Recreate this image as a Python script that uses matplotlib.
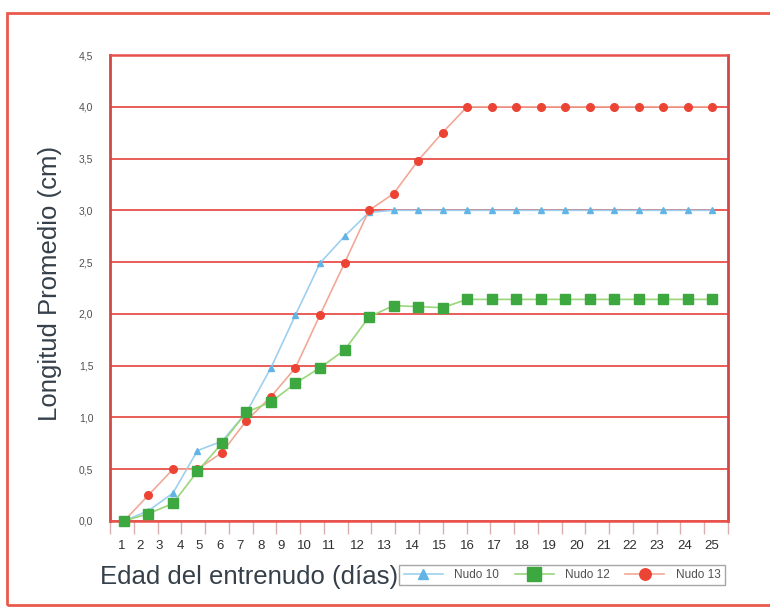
import matplotlib.pyplot as plt
import matplotlib
import numpy as np
from matplotlib.patches import Rectangle

matplotlib.rc('font', family=['Liberation Sans', 'DejaVu Sans'])

# datos
dias = list(range(1, 26))
nudo10 = [0.0, 0.10, 0.27, 0.68, 0.77, 1.05, 1.48, 1.99, 2.49, 2.75, 2.98,
          3.0, 3.0, 3.0, 3.0, 3.0, 3.0, 3.0, 3.0, 3.0, 3.0, 3.0, 3.0, 3.0, 3.0]
nudo12 = [0.0, 0.07, 0.17, 0.48, 0.75, 1.05, 1.15, 1.33, 1.48, 1.65, 1.97,
          2.08, 2.07, 2.06, 2.14, 2.14, 2.14, 2.14, 2.14, 2.14, 2.14, 2.14, 2.14, 2.14, 2.14]
nudo13 = [0.0, 0.25, 0.5, 0.5, 0.66, 0.97, 1.2, 1.48, 1.99, 2.49, 3.0,
          3.16, 3.48, 3.75, 4.0, 4.0, 4.0, 4.0, 4.0, 4.0, 4.0, 4.0, 4.0, 4.0, 4.0]
etiquetas_x = [str(d) for d in dias]
# posiciones (en unidades de dia) donde estan escritas las etiquetas del eje x
pos_etiquetas = [0.92, 1.65, 2.43, 3.29, 4.06, 4.92, 5.73, 6.59, 7.41, 8.35,
                 9.37, 10.51, 11.61, 12.76, 13.86, 15.0, 16.10, 17.24, 18.35,
                 19.49, 20.59, 21.65, 22.76, 23.90, 25.0]
yticks = np.arange(0, 4.51, 0.5)

rojo = '#e8504a'

fig = plt.figure(figsize=(7.7, 6.1), dpi=100)
ax = fig.add_axes([110/770, 1-521/610, 618/770, 466/610])

ax.plot(dias, nudo10, color='#9dd0f0', lw=1.2, marker='^', ms=5,
        mfc='#62b4e4', mec='#62b4e4', label='Nudo 10', clip_on=False, zorder=3)
ax.plot(dias, nudo12, color='#9ad67a', lw=1.2, marker='s', ms=6.5,
        mfc='#3da840', mec='#3da840', label='Nudo 12', clip_on=False, zorder=4)
ax.plot(dias, nudo13, color='#f2a898', lw=1.2, marker='o', ms=5.5,
        mfc='#ec4434', mec='#ec4434', label='Nudo 13', clip_on=False, zorder=3)

xmin, xmax = 0.43, 25.65
ax.set_xlim(xmin, xmax)
ax.set_ylim(0, 4.5)

ax.set_yticks(yticks)
ax.set_yticklabels([('%.1f' % v).replace('.', ',') for v in yticks])
ax.yaxis.grid(True, color=rojo, lw=1.3)
ax.tick_params(axis='y', length=0, pad=12, labelsize=7.5, labelcolor='#505050')

ax.set_xticks(pos_etiquetas)
ax.set_xticklabels(etiquetas_x)
ax.set_xticks(np.linspace(xmin, xmax, 27), minor=True)
ax.tick_params(axis='x', which='major', length=0, pad=14, labelsize=9.5,
               labelcolor='#303030')
ax.tick_params(axis='x', which='minor', length=9, width=1, color='#d8b0b0')

for s in ['left', 'right']:
    ax.spines[s].set_color('#d04848')
    ax.spines[s].set_linewidth(2)
for s in ['top', 'bottom']:
    ax.spines[s].set_color(rojo)
    ax.spines[s].set_linewidth(1.8)

fig.text(50/770, 1-283/610, 'Longitud Promedio (cm)', rotation=90,
         ha='center', va='center', fontsize=18.5, color='#35404a')
fig.text(100/770, 1-577/610, 'Edad del entrenudo (días)',
         ha='left', va='center', fontsize=18.5, color='#35404a')

leg = fig.legend(loc='center right', bbox_to_anchor=(731/770, 1-575/610), ncol=3,
                 fontsize=8.5, frameon=True, fancybox=False, edgecolor='#909090',
                 handlelength=3.3, handletextpad=1.0, columnspacing=1.3,
                 markerscale=1.5, borderpad=0.35)
for t in leg.get_texts():
    t.set_color('#505050')

# marco de la figura
fig.patches.append(Rectangle((7/770, 1-605/610), 1.0, 592/610, transform=fig.transFigure,
                             fill=False, edgecolor='#ea5a4c', lw=2))

plt.savefig('out.png', dpi=100)
